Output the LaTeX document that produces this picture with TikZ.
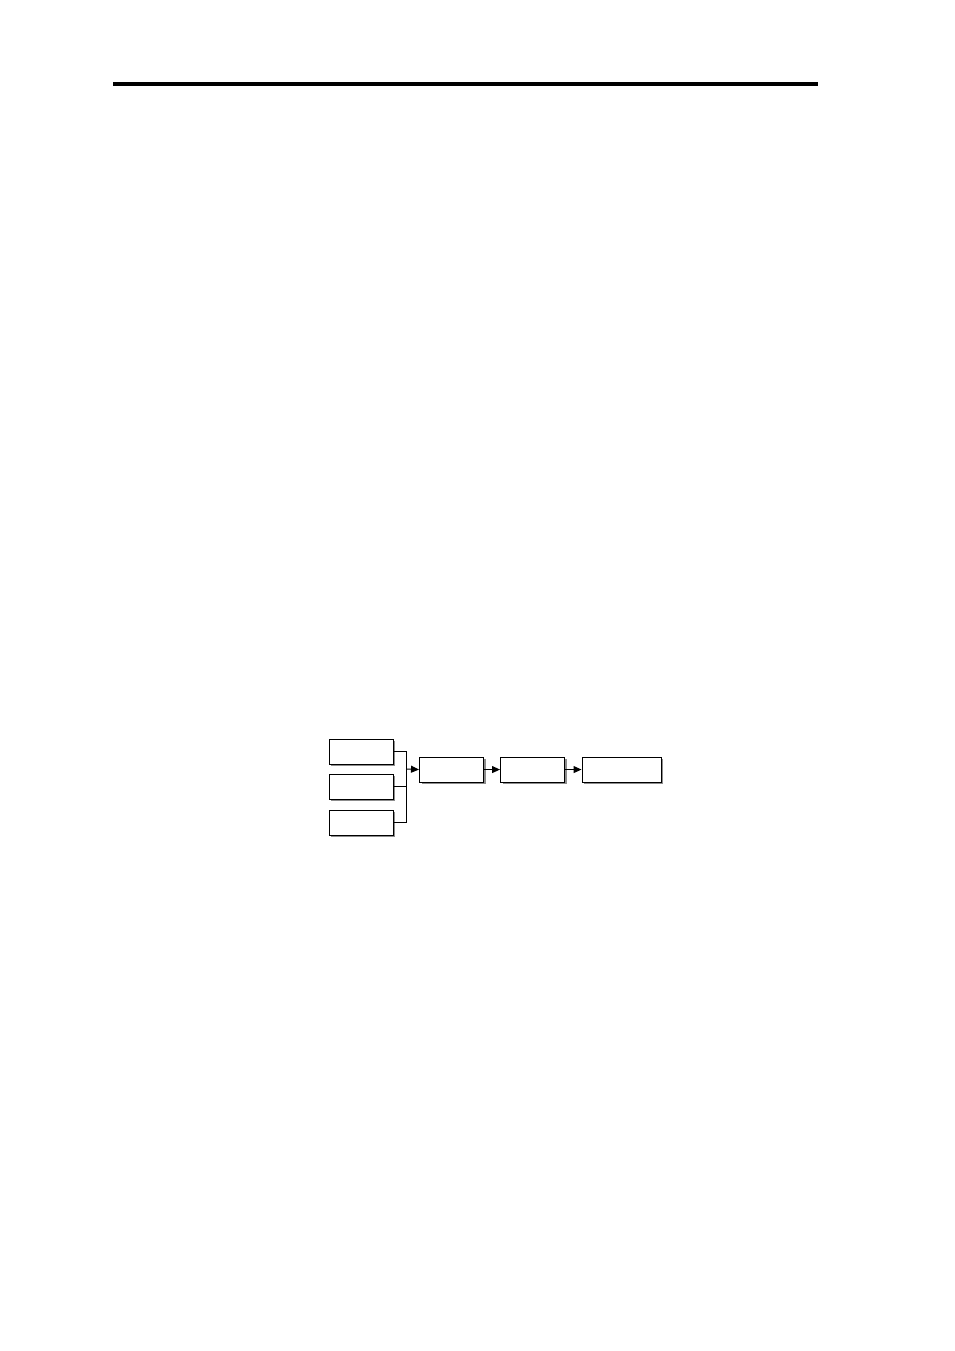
\documentclass[tikz,border=0pt]{standalone}
\usetikzlibrary{arrows.meta,shadows}
\begin{document}
\begin{tikzpicture}[x=1pt,y=-1pt,
  box/.style={draw=black, line width=1.1pt, fill=white, anchor=north west, inner sep=0pt,
    minimum height=25pt,
    drop shadow={shadow xshift=2.2pt, shadow yshift=-2.2pt, fill=black!45, opacity=1}},
  conn/.style={draw=black, line width=1pt},
  arr/.style={conn, -{Triangle[length=8pt,width=7pt]}}]
\useasboundingbox (0,0) rectangle (954,1351);
\fill[white] (0,0) rectangle (954,1351);
\draw[line width=4pt] (113,84) -- (818,84);
\node[box, minimum width=64pt] (a) at (328.5,738.5) {};
\node[box, minimum width=64pt] (b) at (328.5,773.5) {};
\node[box, minimum width=64pt] (c) at (328.5,809.5) {};
\node[box, minimum width=64pt] (d) at (419,756.5) {};
\node[box, minimum width=64pt] (e) at (500,756.5) {};
\node[box, minimum width=79pt] (f) at (581.5,756.5) {};
\coordinate (j) at (406.5,769);
\draw[conn] (a.east) -| (j);
\draw[conn] (c.east) -| (j);
\draw[conn] (b.east) -- (b.east -| j);
\draw[arr] (j) -- (d.west);
\draw[arr] (d.east) -- (e.west);
\draw[arr] (e.east) -- (f.west);
\end{tikzpicture}
\end{document}
